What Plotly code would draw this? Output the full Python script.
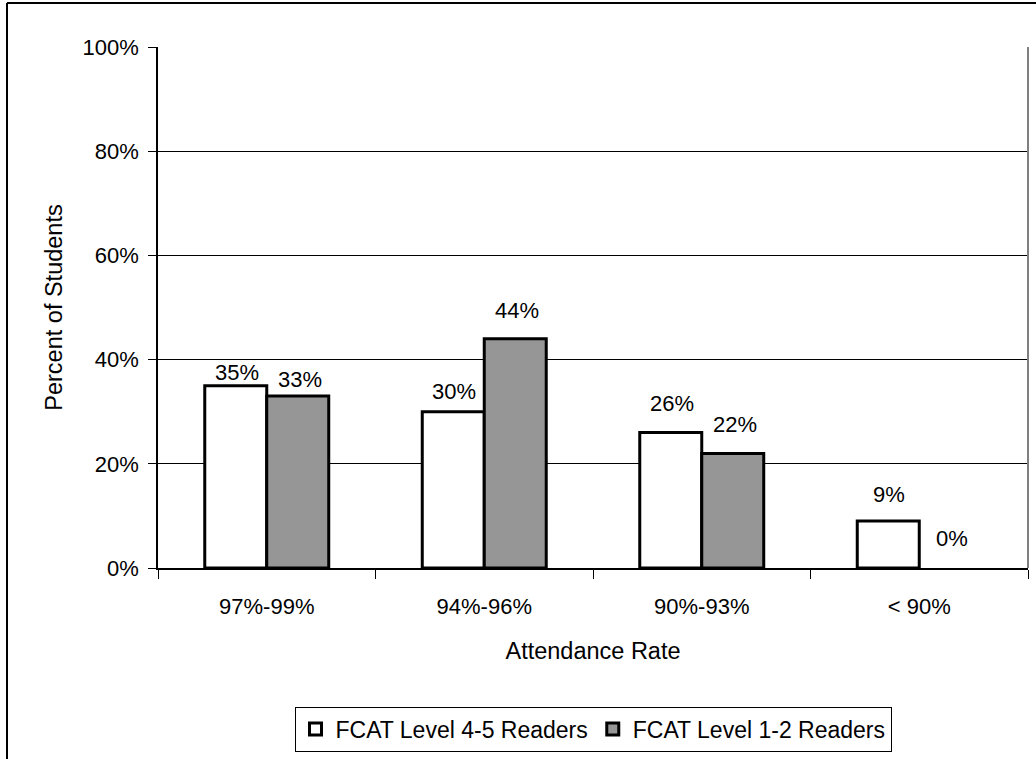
import plotly.graph_objects as go

# Attendance bands and share of students in each reading group
categories = ["97%-99%", "94%-96%", "90%-93%", "< 90%"]
level_45 = [35, 30, 26, 9]
level_12 = [33, 44, 22, 0]
y_ticks = [0, 20, 40, 60, 80, 100]
y_tick_labels = ["0%", "20%", "40%", "60%", "80%", "100%"]

FONT = "Liberation Sans Narrow, Arial Narrow, Liberation Sans, Arial, sans-serif"

W, H = 1036, 759
L, R, T, B = 158, 8, 47, 191
plot_w = W - L - R
plot_h = H - T - B


def px_x(px):
    return (px - L) / plot_w


def px_y(py):
    return (H - B - py) / plot_h


def outline_widths(values):
    # an empty bar gets no outline
    return [3 if v > 0 else 0 for v in values]


fig = go.Figure()
fig.add_trace(go.Bar(
    x=categories, y=level_45, name="FCAT Level 4-5 Readers",
    marker=dict(color="white",
                line=dict(color="black", width=outline_widths(level_45))),
))
fig.add_trace(go.Bar(
    x=categories, y=level_12, name="FCAT Level 1-2 Readers",
    marker=dict(color="#969696",
                line=dict(color="black", width=outline_widths(level_12))),
))

# value labels above each bar (pixel lift per label)
lift_45 = [13, 20, 29, 27]
lift_12 = [17, 28, 29, 30]
annotations = []
for cat, v, dy in zip(categories, level_45, lift_45):
    annotations.append(dict(x=cat, y=v, text=f"{v}%", showarrow=False,
                            xshift=-30, yshift=dy, yanchor="middle",
                            font=dict(family=FONT, size=22, color="black")))
for cat, v, dy in zip(categories, level_12, lift_12):
    annotations.append(dict(x=cat, y=v, text=f"{v}%", showarrow=False,
                            xshift=33, yshift=dy, yanchor="middle",
                            font=dict(family=FONT, size=22, color="black")))

shapes = [
    # right edge of plot area
    dict(type="line", xref="paper", yref="paper", x0=1, x1=1, y0=0, y1=1,
         line=dict(color="#808080", width=2)),
    # outer chart frame
    dict(type="line", xref="paper", yref="paper",
         x0=px_x(7), x1=px_x(1040), y0=px_y(3), y1=px_y(3),
         line=dict(color="black", width=2)),
    dict(type="line", xref="paper", yref="paper",
         x0=px_x(7), x1=px_x(7), y0=px_y(3), y1=px_y(765),
         line=dict(color="black", width=2)),
]

fig.update_layout(
    width=W, height=H,
    margin=dict(l=L, r=R, t=T, b=B),
    paper_bgcolor="white", plot_bgcolor="white",
    barmode="group", bargap=0.43, bargroupgap=0,
    font=dict(family=FONT, size=22, color="black"),
    showlegend=True,
    legend=dict(orientation="h", x=px_x(593), xanchor="center",
                y=px_y(729), yanchor="middle",
                bordercolor="black", borderwidth=1,
                font=dict(family=FONT, size=23, color="black"),
                itemwidth=30, traceorder="normal"),
    annotations=annotations,
    shapes=shapes,
)
fig.update_xaxes(
    showline=True, linecolor="black", linewidth=1.5,
    ticks="outside", ticklen=9, tickcolor="black", tickson="boundaries",
    ticklabelstandoff=18,
    tickfont=dict(family=FONT, size=22),
    title=dict(text="Attendance Rate", font=dict(family=FONT, size=23.5), standoff=24),
)
fig.update_yaxes(
    range=[0, 100], tickvals=y_ticks, ticktext=y_tick_labels,
    showline=True, linecolor="black", linewidth=1.5,
    ticks="outside", ticklen=8, tickcolor="black",
    ticklabelstandoff=5,
    showgrid=True, gridcolor="black", gridwidth=1, zeroline=False,
    tickfont=dict(family=FONT, size=22),
    title=dict(text="Percent of Students", font=dict(family=FONT, size=23.5), standoff=13),
)

fig.write_html("out.html")
